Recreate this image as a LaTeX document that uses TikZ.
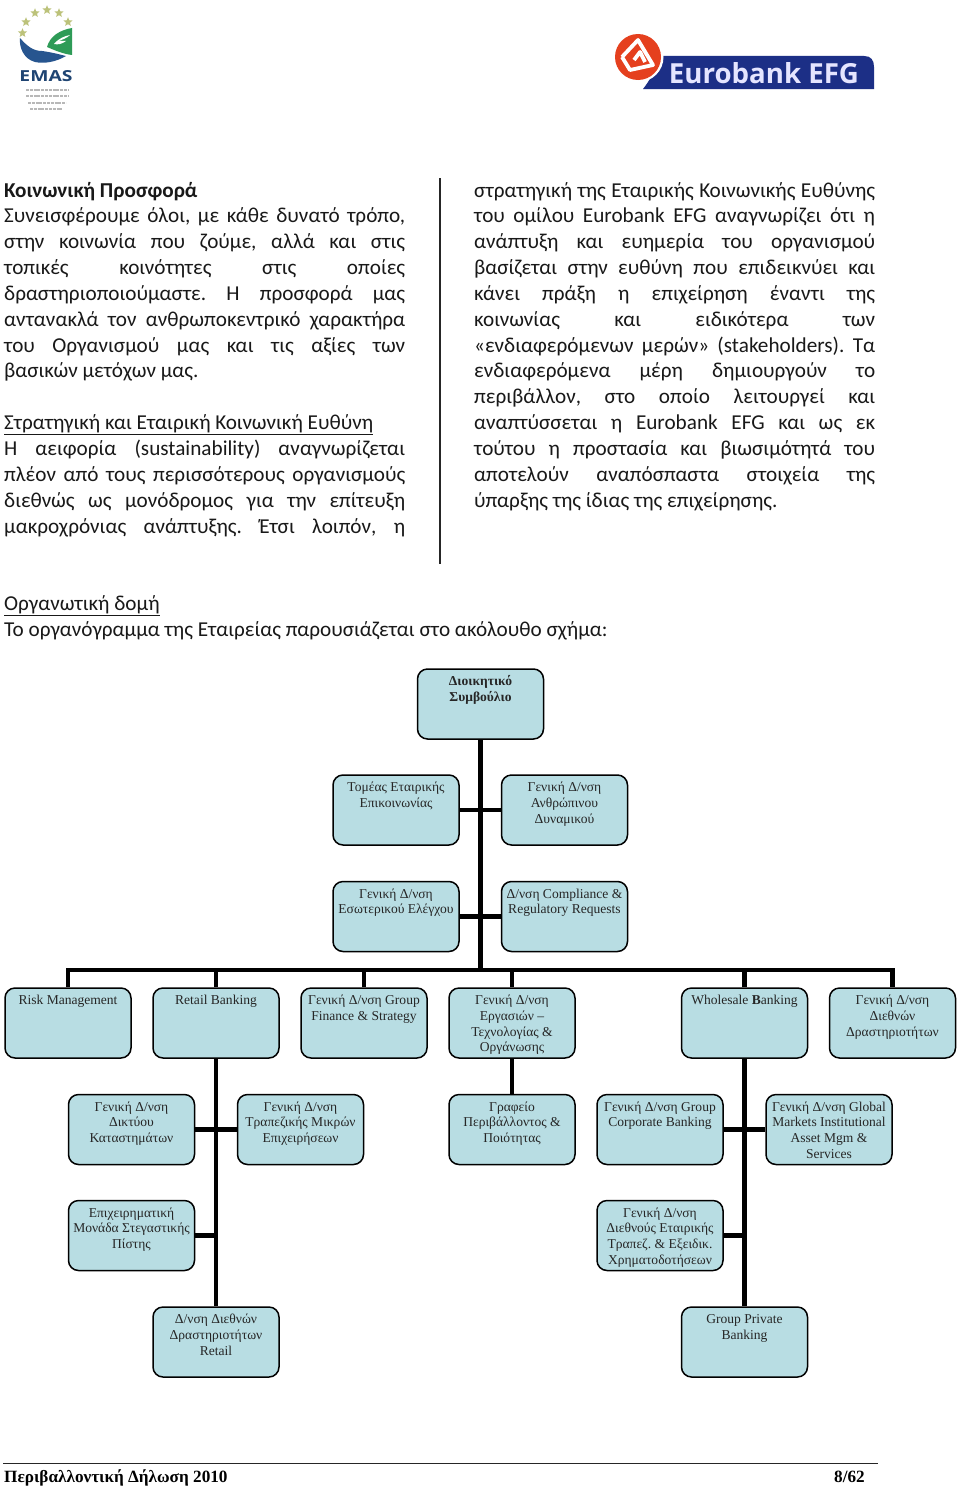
\documentclass[tikz,border=0pt]{standalone}
\usepackage{fontspec}
\setmainfont{Liberation Serif}
\newfontfamily\bodyfont{Carlito}
\newfontfamily\logofont{Open Sans}
\usetikzlibrary{shapes.geometric}
\definecolor{boxfill}{HTML}{B8DDE3}
\definecolor{emasblue}{HTML}{27558F}
\definecolor{emasgreen}{HTML}{2E9B57}
\definecolor{emasstar}{HTML}{BCC27A}
\definecolor{eurored}{HTML}{E5401E}
\definecolor{euroblue}{HTML}{1C2F86}
\newcounter{tl}
\frenchspacing
\tikzset{
  orgbox/.style={draw=black,line width=1.5pt,fill=boxfill,rounded corners=10pt,minimum width=126pt,minimum height=70pt,inner sep=0pt},
  orgtext/.style={anchor=north,inner sep=0pt,align=center,text=black!85,font=\fontsize{13.55}{15.7}\selectfont},
  conn/.style={draw=black,line width=4.2pt,line cap=butt,line join=miter},
  bodyline/.style={anchor=base west,inner sep=0pt,font=\bodyfont\fontsize{21.2}{24}\selectfont,text=black!90},
  rulerline/.style={draw=black!85,line width=1.2pt},
  footer/.style={anchor=base west,inner sep=0pt,font=\bfseries\fontsize{17.2}{20}\selectfont},
  starshape/.style={star,star points=5,star point ratio=2.2,fill=emasstar,inner sep=0pt,minimum size=9.5pt}
}
% justified line, plain line
\newcommand{\jl}[3]{\stepcounter{tl}\node[bodyline] (line\thetl) at (#1,{197+25.85*(#2)}) {\makebox[401pt][s]{#3}};}
\newcommand{\pl}[3]{\stepcounter{tl}\node[bodyline] (line\thetl) at (#1,{197+25.85*(#2)}) {#3};}
% box: name, left, top, text
\newcommand{\bx}[4]{\node[orgbox] (#1) at ({#2+63.5},{#3+35.5}) {};\node[orgtext] (#1t) at ({#2+63.5},{#3+6}) {\rule{0pt}{11pt}#4};}
\begin{document}
\begin{tikzpicture}[x=1pt,y=-1pt]
\useasboundingbox (0,0) rectangle (960,1488);
\fill[white] (0,0) rectangle (960,1488);

% EMAS logo
\foreach \n/\a/\b in {s1/35/13,s2/47/10,s3/59/13,s4/68/22,s5/26/22,s6/22.5/33}{\node[starshape] (\n) at (\a,\b) {};}
\fill[emasgreen] (47,47) .. controls (50,36) and (60,30) .. (72,28) -- (72,55) .. controls (63,54) and (54,50) .. (47,47) -- cycle;
\fill[white] (54,44) .. controls (59,38) and (65,36) .. (70,35) .. controls (67,38) and (62,40) .. (58,41) -- (66,41) .. controls (62,44) and (58,45) .. (54,44) -- cycle;
\fill[emasblue] (20,38) .. controls (27,46) and (33,51) .. (42,51) .. controls (50,52) and (58,54) .. (66,56) .. controls (56,62) and (44,64) .. (35,62) .. controls (24,59) and (19,48) .. (20,38) -- cycle;
\node[inner sep=0pt,text=emasblue!80!black,font=\logofont\bfseries\fontsize{15}{15}\selectfont] (emas) at (46,76) {\resizebox{53pt}{11pt}{EMAS}};
\foreach \yy/\xa/\xb in {90/26/68,96/26/68,103/28/66,109/30/62}{\draw[black!28,line width=2pt,dash pattern=on 3pt off 0.8pt] (\xa,\yy) -- (\xb,\yy);}

% Eurobank logo
\fill[euroblue] (643,89) .. controls (650,80) and (656,70) .. (658,56) -- (864,56) .. controls (871,56) and (874,60) .. (874,67) -- (874,89) -- cycle;
\node[inner sep=0pt,text=white!90!blue,font=\logofont\bfseries] (eurotext) at (764,73.5) {\resizebox{190pt}{21pt}{Eurobank EFG}};
\fill[white] (638.5,57) circle (25);
\fill[eurored] (638,57) circle (23);
\draw[white,line width=3.8pt,line join=round] (622,57) -- (638,40) -- (653,65) -- (630,70) -- (622,57) (634,60) -- (640,52) -- (645,62);

% Body text
\pl{4}{0}{\bfseries Κοινωνική Προσφορά}
\jl{4}{1}{Συνεισφέρουμε όλοι, με κάθε δυνατό τρόπο,}
\jl{4}{2}{στην κοινωνία που ζούμε, αλλά και στις}
\jl{4}{3}{τοπικές κοινότητες στις οποίες}
\jl{4}{4}{δραστηριοποιούμαστε. Η προσφορά μας}
\jl{4}{5}{αντανακλά τον ανθρωποκεντρικό χαρακτήρα}
\jl{4}{6}{του Οργανισμού μας και τις αξίες των}
\pl{4}{7}{βασικών μετόχων μας.}
\pl{4}{9}{\underline{Στρατηγική και Εταιρική Κοινωνική Ευθύνη}}
\jl{4}{10}{Η αειφορία (sustainability) αναγνωρίζεται}
\jl{4}{11}{πλέον από τους περισσότερους οργανισμούς}
\jl{4}{12}{διεθνώς ως μονόδρομος για την επίτευξη}
\jl{4}{13}{μακροχρόνιας ανάπτυξης. Έτσι λοιπόν, η}

\jl{474}{0}{στρατηγική της Εταιρικής Κοινωνικής Ευθύνης}
\jl{474}{1}{του ομίλου Eurobank EFG αναγνωρίζει ότι η}
\jl{474}{2}{ανάπτυξη και ευημερία του οργανισμού}
\jl{474}{3}{βασίζεται στην ευθύνη που επιδεικνύει και}
\jl{474}{4}{κάνει πράξη η επιχείρηση έναντι της}
\jl{474}{5}{κοινωνίας και ειδικότερα των}
\jl{474}{6}{«ενδιαφερόμενων μερών» (stakeholders). Τα}
\jl{474}{7}{ενδιαφερόμενα μέρη δημιουργούν το}
\jl{474}{8}{περιβάλλον, στο οποίο λειτουργεί και}
\jl{474}{9}{αναπτύσσεται η Eurobank EFG και ως εκ}
\jl{474}{10}{τούτου η προστασία και βιωσιμότητά του}
\jl{474}{11}{αποτελούν αναπόσπαστα στοιχεία της}
\pl{474}{12}{ύπαρξης της ίδιας της επιχείρησης.}

\coordinate (colrulea) at (440,178);
\coordinate (colruleb) at (440,564);
\draw[rulerline] (colrulea) -- (colruleb);

\node[bodyline] (orgh) at (4,610) {\underline{Οργανωτική δομή}};
\node[bodyline] (orgi) at (4,636) {Το οργανόγραμμα της Εταιρείας παρουσιάζεται στο ακόλουθο σχήμα:};

% Org chart boxes
\bx{board}{417}{668.5}{\textbf{Διοικητικό}\\\textbf{Συμβούλιο}}
\bx{comm}{332.5}{774.5}{Τομέας Εταιρικής\\Επικοινωνίας}
\bx{hr}{501}{774.5}{Γενική Δ/νση\\Ανθρώπινου\\Δυναμικού}
\bx{audit}{332.5}{881}{Γενική Δ/νση\\Εσωτερικού Ελέγχου}
\bx{compl}{501}{881}{Δ/νση Compliance \&\\Regulatory Requests}
\bx{risk}{4.5}{987.5}{Risk Management}
\bx{retail}{152.5}{987.5}{Retail Banking}
\bx{fin}{300.5}{987.5}{Γενική Δ/νση Group\\Finance \& Strategy}
\bx{ops}{448.5}{987.5}{Γενική Δ/νση\\Εργασιών --\\Τεχνολογίας \&\\Οργάνωσης}
\bx{whole}{681}{987.5}{Wholesale \textbf{B}anking}
\bx{intl}{829}{987.5}{Γενική Δ/νση\\Διεθνών\\Δραστηριοτήτων}
\bx{net}{68}{1094}{Γενική Δ/νση\\Δικτύου\\Καταστημάτων}
\bx{sme}{237}{1094}{Γενική Δ/νση\\Τραπεζικής Μικρών\\Επιχειρήσεων}
\bx{env}{448.5}{1094}{Γραφείο\\Περιβάλλοντος \&\\Ποιότητας}
\bx{corp}{596.5}{1094}{Γενική Δ/νση Group\\Corporate Banking}
\bx{glob}{765.5}{1094}{Γενική Δ/νση Global\\Markets Institutional\\Asset Mgm \&\\Services}
\bx{mort}{68}{1200}{Επιχειρηματική\\Μονάδα Στεγαστικής\\Πίστης}
\bx{ifin}{596.5}{1200}{Γενική Δ/νση\\Διεθνούς Εταιρικής\\Τραπεζ. \& Εξειδικ.\\Χρηματοδοτήσεων}
\bx{iret}{152.5}{1306.5}{Δ/νση Διεθνών\\Δραστηριοτήτων\\Retail}
\bx{priv}{681}{1306.5}{Group Private\\Banking}

% Connectors
\coordinate (bus) at (480.5,970);
\draw[conn] (board.south) -- (bus);
\draw[conn] (comm.east) -- (hr.west);
\draw[conn] (audit.east) -- (compl.west);
\draw[conn] (risk.north) |- (bus) -| (intl.north);
\draw[conn] (retail.north) -- (retail.north |- bus);
\draw[conn] (fin.north) -- (fin.north |- bus);
\draw[conn] (ops.north) -- (ops.north |- bus);
\draw[conn] (whole.north) -- (whole.north |- bus);
\draw[conn] (retail.south) -- (iret.north);
\draw[conn] (ops.south) -- (env.north);
\draw[conn] (whole.south) -- (priv.north);
\draw[conn] (net.east) -- (sme.west);
\draw[conn] (corp.east) -- (glob.west);
\draw[conn] (mort.east) -- (mort.east -| iret.north);
\draw[conn] (ifin.east) -- (ifin.east -| priv.north);

% Footer
\coordinate (footl) at (3,1463.5);
\coordinate (footr) at (878,1463.5);
\draw[black!85,line width=1pt] (footl) -- (footr);
\node[footer] (foota) at (4,1482) {Περιβαλλοντική Δήλωση 2010};
\node[footer] (footb) at (834,1482) {8/62};
\end{tikzpicture}
\end{document}
